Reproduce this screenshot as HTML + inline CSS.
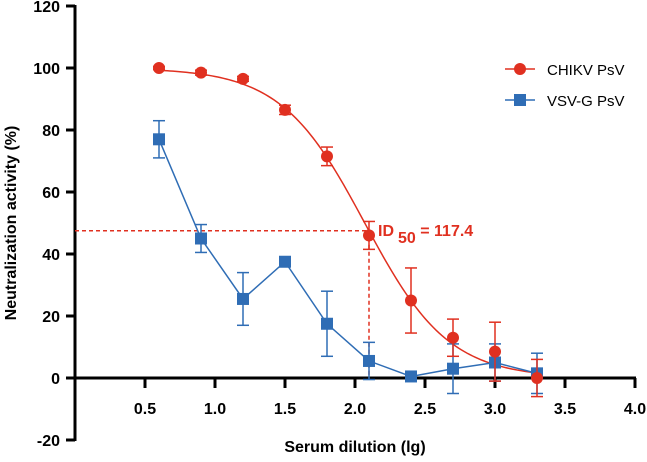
<!DOCTYPE html>
<html><head><meta charset="utf-8"><style>
body{margin:0;background:#fff}
svg{display:block;font-family:"Liberation Sans",Arial,sans-serif}
</style></head><body>
<svg id="chart" width="647" height="462"></svg>
<script>
const xs=[0.6,0.9,1.2,1.5,1.8,2.1,2.4,2.7,3.0,3.3];
const chikV=[100,98.5,96.5,86.5,71.5,46,25,13,8.5,0];
const chikE=[0.5,0.8,0.8,1.5,3,4.5,10.5,6,9.5,6];
const vsvV=[77,45,25.5,37.5,17.5,5.5,0.5,3,5,1.5];
const vsvE=[6,4.5,8.5,0.5,10.5,6,0.5,8,6,6.5];
const xTicks=[0.5,1.0,1.5,2.0,2.5,3.0,3.5,4.0];
const yTicks=[-20,0,20,40,60,80,100,120];
const ID50=117.4, hill=1.45;
const X=v=>75+v*140, Y=v=>378-v*3.1;
const svg=document.getElementById('chart');const NS='http://www.w3.org/2000/svg';
function mk(t,a,p){const e=document.createElementNS(NS,t);for(const k in a)e.setAttribute(k,a[k]);(p||svg).appendChild(e);return e;}
let e;
e=mk('line',{x1:75,y1:Y(120)-1,x2:75,y2:Y(-20)+1,stroke:'#000','stroke-width':3});

e=mk('line',{x1:73.5,y1:378,x2:X(4)+1,y2:378,stroke:'#000','stroke-width':3});

yTicks.forEach(t=>{mk('line',{x1:66,y1:Y(t),x2:75,y2:Y(t),stroke:'#000','stroke-width':3});
e=mk('text',{x:60,y:Y(t)+6,'text-anchor':'end','font-size':16,'font-weight':'bold'});e.textContent=t;
});
xTicks.forEach(t=>{mk('line',{x1:X(t),y1:378,x2:X(t),y2:388,stroke:'#000','stroke-width':3});
e=mk('text',{x:X(t),y:414,'text-anchor':'middle','font-size':16,'font-weight':'bold'});e.textContent=t.toFixed(1);
});
e=mk('text',{x:355,y:452,'text-anchor':'middle','font-size':16,'font-weight':'bold'});e.textContent='Serum dilution (lg)';

e=mk('text',{x:0,y:0,'text-anchor':'middle','font-size':16,'font-weight':'bold',transform:'translate(16,223) rotate(-90)'});e.textContent='Neutralization activity (%)';

const lx=Math.log10(ID50);
e=mk('polyline',{points:`75,${Y(47.5)} ${X(2.1)},${Y(47.5)} ${X(2.1)},378`,fill:'none',stroke:'#e03020','stroke-width':1.5,'stroke-dasharray':'4,3'});

// fit curve
let pts=[];for(let v=0.6;v<=3.301;v+=0.02){pts.push(X(v)+','+Y(100/(1+Math.pow(10,hill*(v-lx)))));}
e=mk('polyline',{points:pts.join(' '),fill:'none',stroke:'#e03020','stroke-width':1.5});

// vsv line
e=mk('polyline',{points:xs.map((x,i)=>X(x)+','+Y(vsvV[i])).join(' '),fill:'none',stroke:'#2f6db5','stroke-width':1.5});

function err(x,v,er,c){const g=mk('g',{stroke:c,'stroke-width':1.5});
mk('line',{x1:X(x),y1:Y(v+er),x2:X(x),y2:Y(v-er)},g);
mk('line',{x1:X(x)-6,y1:Y(v+er),x2:X(x)+6,y2:Y(v+er)},g);
mk('line',{x1:X(x)-6,y1:Y(v-er),x2:X(x)+6,y2:Y(v-er)},g);return g;}
xs.forEach((x,i)=>{e=err(x,vsvV[i],vsvE[i],'#2f6db5');
e=mk('rect',{x:X(x)-6,y:Y(vsvV[i])-6,width:12,height:12,fill:'#2f6db5'});
});
xs.forEach((x,i)=>{e=err(x,chikV[i],chikE[i],'#e03020');
e=mk('circle',{cx:X(x),cy:Y(chikV[i]),r:6,fill:'#e03020'});
});
e=mk('text',{x:378,y:Y(47.5)+5,'font-size':16,'font-weight':'bold',fill:'#e03020'});
e.innerHTML='ID<tspan dy="7" dx="4">50</tspan><tspan dy="-7"> = 117.4</tspan>';

// legend
e=mk('g',{});
mk('line',{x1:505,y1:69,x2:535,y2:69,stroke:'#e03020','stroke-width':1.5},e);
mk('circle',{cx:520,cy:69,r:6,fill:'#e03020'},e);
let t=mk('text',{x:547,y:75,'font-size':15},e);t.textContent='CHIKV PsV';
e=mk('g',{});
mk('line',{x1:505,y1:100,x2:535,y2:100,stroke:'#2f6db5','stroke-width':1.5},e);
mk('rect',{x:514,y:94,width:12,height:12,fill:'#2f6db5'},e);
t=mk('text',{x:547,y:106,'font-size':15},e);t.textContent='VSV-G PsV';
</script>
</body></html>
